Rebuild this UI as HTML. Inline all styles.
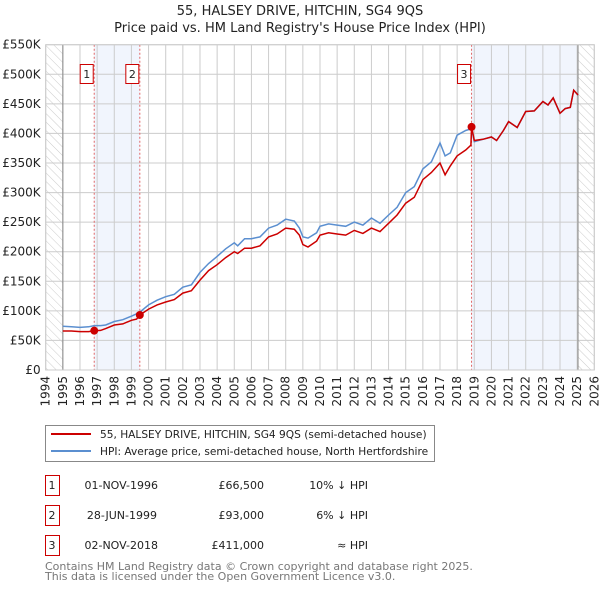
<!DOCTYPE html>
<html><head><meta charset="utf-8"><style>
body{margin:0;background:#fff;font-family:"DejaVu Sans","Liberation Sans",sans-serif;}
svg text{font-family:"DejaVu Sans","Liberation Sans",sans-serif;}
</style></head><body>
<svg id="chart" width="600" height="590" xmlns="http://www.w3.org/2000/svg">
<defs><pattern id="hatch" width="6" height="6" patternUnits="userSpaceOnUse" patternTransform="rotate(-45)"><line x1="0" y1="0" x2="0" y2="6" stroke="#ccc" stroke-width="1"/></pattern></defs>
<text x="300" y="15" text-anchor="middle" font-size="13" fill="#222">55, HALSEY DRIVE, HITCHIN, SG4 9QS</text>
<text x="300" y="32" text-anchor="middle" font-size="13" fill="#222">Price paid vs. HM Land Registry's House Price Index (HPI)</text>
<g id="plot"></g>
<g>
<rect x="45.5" y="425.5" width="389" height="36" fill="#fff" stroke="#888"/>
<line x1="51" y1="434" x2="91" y2="434" stroke="#cc0000" stroke-width="2"/>
<text x="100" y="438" font-size="10.6" fill="#222">55, HALSEY DRIVE, HITCHIN, SG4 9QS (semi-detached house)</text>
<line x1="51" y1="451" x2="91" y2="451" stroke="#5b8fd0" stroke-width="2"/>
<text x="100" y="455" font-size="10.6" fill="#222">HPI: Average price, semi-detached house, North Hertfordshire</text>
</g>
<g font-size="11" fill="#222">
<rect x="45.5" y="475.5" width="14" height="20" fill="none" stroke="#cc0000"/><text x="52" y="489" text-anchor="middle">1</text>
<text x="158" y="489" text-anchor="end">01-NOV-1996</text><text x="264" y="489" text-anchor="end">£66,500</text><text x="368" y="489" text-anchor="end">10% ↓ HPI</text>
<rect x="45.5" y="505.5" width="14" height="20" fill="none" stroke="#cc0000"/><text x="52" y="519" text-anchor="middle">2</text>
<text x="157" y="519" text-anchor="end">28-JUN-1999</text><text x="264" y="519" text-anchor="end">£93,000</text><text x="368" y="519" text-anchor="end">6% ↓ HPI</text>
<rect x="45.5" y="535.5" width="14" height="20" fill="none" stroke="#cc0000"/><text x="52" y="549" text-anchor="middle">3</text>
<text x="158" y="549" text-anchor="end">02-NOV-2018</text><text x="264" y="549" text-anchor="end">£411,000</text><text x="368" y="549" text-anchor="end">≈ HPI</text>
</g>
<text x="45" y="570" font-size="11" fill="#777">Contains HM Land Registry data © Crown copyright and database right 2025.</text>
<text x="45" y="580" font-size="11" fill="#777">This data is licensed under the Open Government Licence v3.0.</text>
</svg>
<script>
const hpiYears=[1995,1995.5,1996,1996.5,1996.83,1997.2,1997.5,1998,1998.5,1999,1999.3,1999.5,2000,2000.5,2001,2001.5,2002,2002.5,2003,2003.5,2004,2004.5,2005,2005.2,2005.6,2006,2006.5,2007,2007.5,2008,2008.5,2008.8,2009,2009.3,2009.8,2010,2010.5,2011,2011.5,2012,2012.5,2013,2013.5,2014,2014.5,2015,2015.5,2016,2016.5,2017,2017.3,2017.6,2018,2018.5,2018.84,2019,2019.5,2020,2020.3,2020.7,2021,2021.5,2022,2022.5,2023,2023.3,2023.6,2024,2024.3,2024.6,2024.8,2025.05];
const hpiValues=[74,73,72,73,75,75,76,82,85,91,95,98,110,118,124,128,140,144,165,180,192,205,215,210,222,222,225,240,245,255,252,240,225,223,232,243,247,245,243,250,245,257,248,262,275,300,310,340,352,384,362,367,397,405,408,386,390,394,388,405,420,410,437,438,454,448,460,434,442,444,473,465];
const redYears=[1995,1995.5,1996,1996.5,1996.83,1997.2,1997.5,1998,1998.5,1999,1999.3,1999.49,2000,2000.5,2001,2001.5,2002,2002.5,2003,2003.5,2004,2004.5,2005,2005.2,2005.6,2006,2006.5,2007,2007.5,2008,2008.5,2008.8,2009,2009.3,2009.8,2010,2010.5,2011,2011.5,2012,2012.5,2013,2013.5,2014,2014.5,2015,2015.5,2016,2016.5,2017,2017.3,2017.6,2018,2018.5,2018.8,2018.84,2019,2019.5,2020,2020.3,2020.7,2021,2021.5,2022,2022.5,2023,2023.3,2023.6,2024,2024.3,2024.6,2024.8,2025.05];
const redValues=[66,66,65,65,66.5,67,70,76,78,84,86,93,103,110,115,119,130,134,152,168,178,190,200,197,206,206,210,225,230,240,238,228,212,208,218,228,232,230,228,236,231,240,234,248,262,282,292,322,334,350,330,345,362,372,380,411,388,390,394,388,405,420,410,437,438,454,448,460,434,442,444,473,465];
const saleYears=[1996.83,1999.49,2018.84];
const salePrices=[66.5,93,411];
const saleLabels=["1","2","3"];
const yTicks=[0,50,100,150,200,250,300,350,400,450,500,550];
const yTickLabels=["£0","£50K","£100K","£150K","£200K","£250K","£300K","£350K","£400K","£450K","£500K","£550K"];
const xTicks=[1994,1995,1996,1997,1998,1999,2000,2001,2002,2003,2004,2005,2006,2007,2008,2009,2010,2011,2012,2013,2014,2015,2016,2017,2018,2019,2020,2021,2022,2023,2024,2025,2026];

const L=45.7,R=594.3,T=44.7,B=370;
const xS=y=>L+(y-1994)/32*(R-L);
const yS=v=>B-v/550*(B-T);
const NS="http://www.w3.org/2000/svg";
const g=document.getElementById('plot');
function mk(tag,attrs,parent){const e=document.createElementNS(NS,tag);for(const k in attrs)e.setAttribute(k,attrs[k]);(parent||g).appendChild(e);return e;}
let e;
e=mk('rect',{x:L,y:T,width:R-L,height:B-T,fill:'#fff'});


e=mk('rect',{x:xS(saleYears[0]),y:T,width:xS(saleYears[1])-xS(saleYears[0]),height:B-T,fill:'#eef3fd',opacity:0.8});


e=mk('rect',{x:xS(saleYears[2]),y:T,width:xS(2025.05)-xS(saleYears[2]),height:B-T,fill:'#eef3fd',opacity:0.8});


e=mk('rect',{x:L,y:T,width:xS(1995)-L,height:B-T,fill:'url(#hatch)'});


e=mk('rect',{x:xS(2025.05),y:T,width:R-xS(2025.05),height:B-T,fill:'url(#hatch)'});


yTicks.forEach((v,i)=>{
 e=mk('line',{x1:L,x2:R,y1:yS(v),y2:yS(v),stroke:'#ccc','stroke-width':1});
 
 
 e=mk('text',{x:L-5,y:yS(v)+4,'text-anchor':'end','font-size':12,fill:'#222'});
 e.textContent=yTickLabels[i];
 
 
});
xTicks.forEach(y=>{
 e=mk('line',{x1:xS(y),x2:xS(y),y1:T,y2:B,stroke:'#ccc','stroke-width':1});
 
 
 e=mk('text',{x:0,y:0,'text-anchor':'end','font-size':12,fill:'#222',transform:`translate(${xS(y)+4},${B+6}) rotate(-90)`});
 e.textContent=y;
 
 
});
e=mk('line',{x1:xS(1995),x2:xS(1995),y1:T,y2:B,stroke:'#888','stroke-width':1});


e=mk('line',{x1:xS(2025.05),x2:xS(2025.05),y1:T,y2:B,stroke:'#888','stroke-width':1});


saleYears.forEach((y,i)=>{
 e=mk('line',{x1:xS(y),x2:xS(y),y1:T,y2:B,stroke:'#e06666','stroke-width':1,'stroke-dasharray':'2,2'});
 
 
});
e=mk('path',{d:hpiYears.map((y,i)=>(i?'L':'M')+xS(y).toFixed(1)+','+yS(hpiValues[i]).toFixed(1)).join(''),fill:'none',stroke:'#5b8fd0','stroke-width':1.5});


e=mk('path',{d:redYears.map((y,i)=>(i?'L':'M')+xS(y).toFixed(1)+','+yS(redValues[i]).toFixed(1)).join(''),fill:'none',stroke:'#cc0000','stroke-width':1.5});


saleYears.forEach((y,i)=>{
 e=mk('circle',{cx:xS(y),cy:yS(salePrices[i]),r:4,fill:'#cc0000'});
 
 
 e=mk('rect',{x:xS(y)-14,y:64.5,width:13,height:19,fill:'#fff',stroke:'#cc0000'});
 
 
 e=mk('text',{x:xS(y)-7.5,y:78,'text-anchor':'middle','font-size':11,fill:'#222'});
 e.textContent=saleLabels[i];
 
 
});
e=mk('rect',{x:L,y:T,width:R-L,height:B-T,fill:'none',stroke:'#ccc'});


</script>
</body></html>
